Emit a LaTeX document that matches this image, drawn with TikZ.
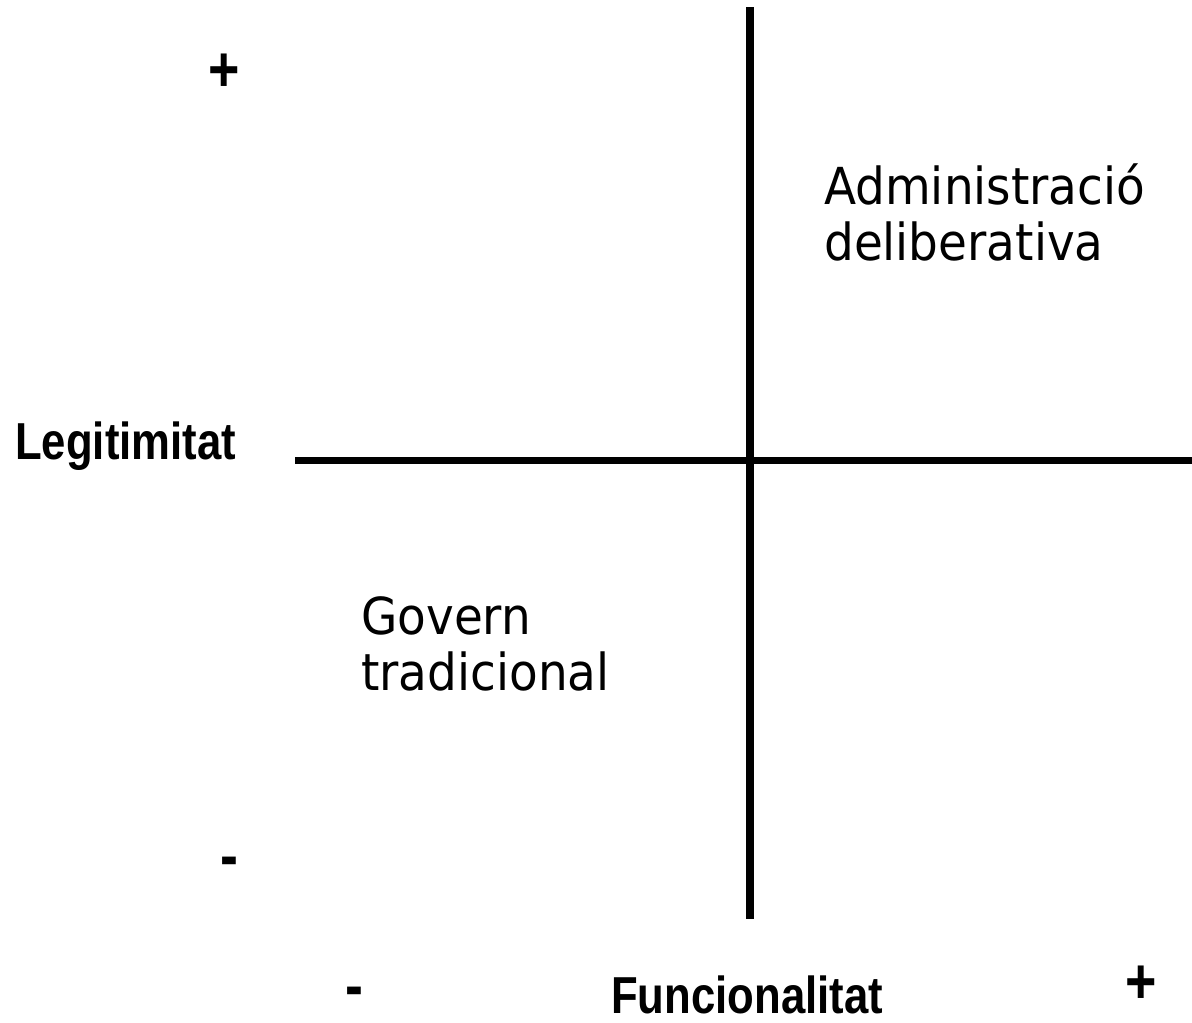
\documentclass[tikz,border=0pt]{standalone}
\usepackage{fontspec}
\newfontfamily\quadfont[FakeStretch=0.92]{DejaVu Sans}
\newfontfamily\axisfont[FakeStretch=0.84]{Liberation Sans Bold}
\begin{document}
\begin{tikzpicture}[x=1pt,y=-1pt,
  axisline/.style={line width=7.5pt,black},
  quadlabel/.style={inner sep=0pt,anchor=base west,align=left,font=\quadfont\fontsize{51}{55.5}\selectfont},
  axislabel/.style={inner sep=0pt,anchor=base west,font=\axisfont\fontsize{52}{58}\selectfont},
  signlabel/.style={inner sep=0pt,font=\axisfont\fontsize{64}{70}\selectfont}]
\useasboundingbox (0,0) rectangle (1192,1023);
\coordinate (vtop) at (750,7);
\coordinate (vbot) at (750,919);
\coordinate (hleft) at (295,460.5);
\coordinate (hright) at (1192,460.5);
\draw[axisline] (vtop) -- (vbot);
\draw[axisline] (hleft) -- (hright);
\node[quadlabel] (admin) at (824,260) {Administració\\deliberativa};
\node[quadlabel] (govern) at (361,690) {Govern\\tradicional};
\node[axislabel] (legit) at (15,459) {Legitimitat};
\node[axislabel] (func) at (611,1013) {Funcionalitat};
\node[signlabel,anchor=center] (yplus) at (224,73) {+};
\node[signlabel,anchor=base] (yminus) at (229.5,877) {-};
\node[signlabel,anchor=base] (xminus) at (354.5,1007) {-};
\node[signlabel,anchor=center] (xplus) at (1141,985) {+};
\end{tikzpicture}
\end{document}
